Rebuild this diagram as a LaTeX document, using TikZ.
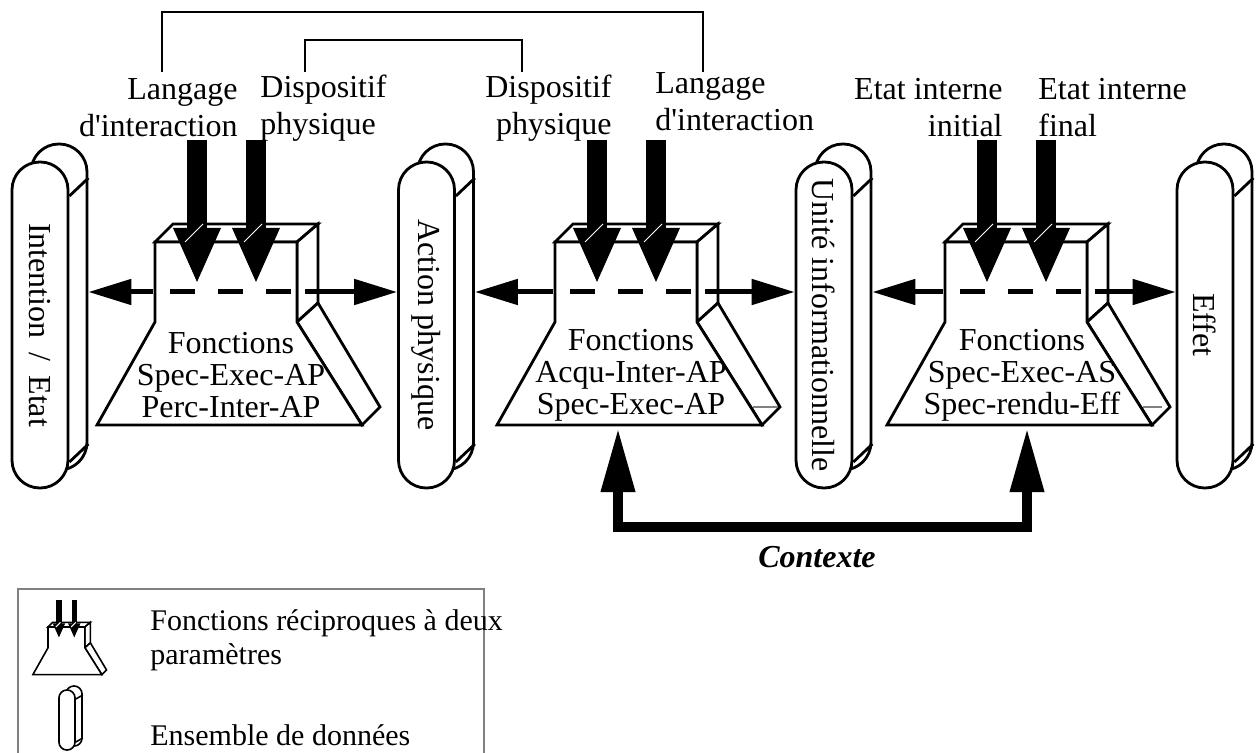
\documentclass[tikz,border=0pt]{standalone}
\usepackage{fontspec}
\setmainfont{Liberation Serif}
\usetikzlibrary{arrows.meta,calc}
\tikzset{
  ol/.style={draw=black, fill=white, line width=1.4pt, line join=miter},
  pill/.style={draw=black, fill=white, line width=1.4pt, rounded corners=13.9pt,
    minimum width=163pt, minimum height=28pt, inner sep=0pt, rotate=-90,
    font=\fontsize{16}{18}\selectfont},
  conn/.style={draw=black, line width=1.4pt},
  harrow/.style={line width=2.5pt, -{Triangle[length=21.5pt,width=12.5pt]}},
  ctx/.style={line width=5pt, line join=miter,
    {Triangle[length=32pt,width=16pt]}-{Triangle[length=32pt,width=16pt]}},
  brk/.style={line width=1.2pt, line join=miter},
  lbl/.style={inner sep=0pt, font=\fontsize{16}{18.5}\selectfont},
  btext/.style={inner sep=0pt, align=center, font=\fontsize{16}{16}\selectfont},
  fshape/.pic={
    \path[ol] (0,0) -- (18,-18) -- (163,-18) -- (142,0) -- cycle;
    \path[ol] (142,0) -- (163,-18) -- (163,61) -- (142,80) -- cycle;
    \path[ol] (142,80) -- (163,61) -- (225,165) -- (207,183) -- cycle;
    \path[ol] (0,0) -- (0,80) -- (-58,183) -- (207,183) -- (142,80) -- (142,0) -- cycle;
    \foreach \ax in {42,101} {
      \fill[black] (\ax-10,-102) rectangle (\ax+10,-12);
      \fill[black] (\ax-24,-14) -- (\ax+24,-14) -- (\ax,40) -- cycle;
      \draw[white, line width=0.5pt] (\ax-12,0) -- (\ax+6,-18);
    }
    \coordinate (-W) at (-2,50);
    \coordinate (-E) at (150,50);
    \coordinate (-S) at (63,186);
  }
}
\begin{document}
\begin{tikzpicture}[x=0.5pt,y=-0.5pt]
\useasboundingbox (0,0) rectangle (1257,753);

% ---- data sets (pills) ----
\foreach \n/\cx/\txt in {1/40/{Intention\hspace{7pt}/\hspace{7pt}Etat},
                         2/426.5/{Action physique},
                         3/824/{Unité informationnelle},
                         4/1205/{Effet}} {
  \node[pill] (p\n b) at (\cx+19,307) {};
  \draw[conn] ($(p\n b.north)+(0,-129)$) -- ($(p\n b.north)+(-19,-111)$);
  \draw[conn] ($(p\n b.north)+(0,137)$) -- ($(p\n b.north)+(-19,155)$);
  \node[pill] (p\n f) at (\cx,325) {\txt};
}

% ---- function blocks ----
\pic (b1) at (155,242) {fshape};
\pic (b2) at (555,242) {fshape};
\pic (b3) at (945,242) {fshape};

\node[btext] (t1) at (231,375) {Fonctions\\Spec-Exec-AP\\Perc-Inter-AP};
\node[btext] (t2) at (631,375) {Fonctions\\Acqu-Inter-AP\\Spec-Exec-AP};
\node[btext] (t3) at (1022,375) {Fonctions\\Spec-Exec-AS\\Spec-rendu-Eff};

\draw[gray, line width=0.6pt] (753,407) -- (778,407);
\draw[gray, line width=0.6pt] (1143,407) -- (1162,407);

% dashed lines inside boxes
\foreach \bx in {155,555,945} {
  \draw[line width=2.5pt, dash pattern=on 12.5pt off 11.5pt] (\bx+15,292) -- (\bx+140,292);
}

% horizontal arrows
\draw[harrow] (b1-W) -- (b1-W -| p1b.north);
\draw[harrow] (b1-E) -- (b1-E -| p2f.south);
\draw[harrow] (b2-W) -- (b2-W -| p2b.north);
\draw[harrow] (b2-E) -- (b2-E -| p3f.south);
\draw[harrow] (b3-W) -- (b3-W -| p3b.north);
\draw[harrow] (b3-E) -- (b3-E -| p4f.south);

% context arrow
\coordinate (ctxR) at (1027,428);
\coordinate (cb) at (0,527);
\draw[ctx] (b2-S) -- (b2-S |- cb) -- (ctxR |- cb) -- (ctxR);
\node[inner sep=0pt, font=\fontsize{16}{18}\selectfont\bfseries\itshape] (ctxl) at (817,557) {Contexte};

% ---- parameter labels ----
\node[lbl, align=right, anchor=east] (L1) at (238,108) {Langage\\d\textquotesingle interaction};
\node[lbl, align=left, anchor=west] (L2) at (260,108) {Dispositif\\physique};
\node[lbl, align=right, anchor=east] (L3) at (612,108) {Dispositif\\physique};
\node[lbl, align=left, anchor=west] (L4) at (655,102) {Langage\\d\textquotesingle interaction};
\node[lbl, align=right, anchor=east] (L5) at (1003,108) {Etat interne\\initial};
\node[lbl, align=left, anchor=west] (L6) at (1038,108) {Etat interne\\final};

% brackets
\coordinate (o1) at (162,72);
\coordinate (o2) at (703,72);
\coordinate (i1) at (305,72);
\coordinate (i2) at (522,72);
\draw[brk] (o1) -- ($(o1)+(0,-60)$) -- ($(o2)+(0,-60)$) -- (o2);
\draw[brk] (i1) -- ($(i1)+(0,-32)$) -- ($(i2)+(0,-32)$) -- (i2);

% ---- legend ----
\draw[draw=black!50, line width=1.1pt] (18,753) -- (18,589) -- (484,589) -- (484,753);
\begin{scope}
  \tikzset{ol/.style={draw=black, fill=white, line width=0.8pt, line join=miter}}
  \pic[scale=0.26] (lg) at (48,627) {fshape};
\end{scope}
\node[pill, minimum width=30pt, minimum height=8pt, rounded corners=3.9pt, line width=0.8pt] (lpb) at (74,716) {};
\draw[line width=0.8pt] ($(lpb.north)+(0,-21)$) -- ($(lpb.north)+(-7,-17)$);
\draw[line width=0.8pt] ($(lpb.north)+(0,22)$) -- ($(lpb.north)+(-7,26)$);
\node[pill, minimum width=30pt, minimum height=8pt, rounded corners=3.9pt, line width=0.8pt] (lpf) at (67,720) {};
\node[lbl, align=left, anchor=west, font=\fontsize{15}{17}\selectfont] (lt1) at (150,640) {Fonctions réciproques à deux\\paramètres};
\node[lbl, anchor=west, font=\fontsize{15}{17}\selectfont] (lt2) at (150,735) {Ensemble de données};
\end{tikzpicture}
\end{document}
